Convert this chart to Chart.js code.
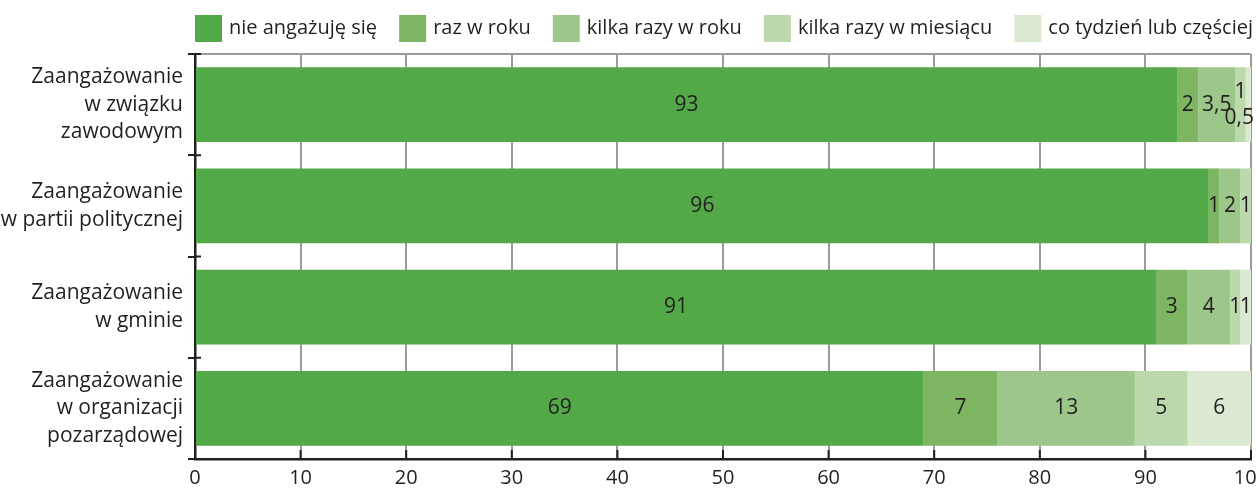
<!DOCTYPE html>
<html>
<head>
<meta charset="utf-8">
<script src="https://cdn.jsdelivr.net/npm/chart.js@4/dist/chart.umd.min.js"></script>
<style>
  html, body { margin: 0; padding: 0; background: #fff; }
  #wrap { width: 1256px; height: 492px; }
</style>
</head>
<body>
<div id="wrap"><canvas id="chart-area"></canvas></div>
<script>
  var categories = [
    ['Zaangażowanie', 'w związku', 'zawodowym'],
    ['Zaangażowanie', 'w partii politycznej'],
    ['Zaangażowanie', 'w gminie'],
    ['Zaangażowanie', 'w organizacji', 'pozarządowej']
  ];
  var seriesNames = ['nie angażuję się', 'raz w roku', 'kilka razy w roku', 'kilka razy w miesiącu', 'co tydzień lub częściej'];
  var nieAngazuje = [93, 96, 91, 69];
  var razWRoku = [2, 1, 3, 7];
  var kilkaRazyWRoku = [3.5, 2, 4, 13];
  var kilkaRazyWMiesiacu = [1, 1, 1, 5];
  var coTydzien = [0.5, 0, 1, 6];
  var xTicks = [0, 10, 20, 30, 40, 50, 60, 70, 80, 90, 100];
  var colors = ['#53a847', '#7db563', '#9dc68a', '#bcd8ad', '#dbe8d2'];

  var FONT = '"Open Sans", "DejaVu Sans", sans-serif';
  var TEXT = '#231f20';

  var series = [nieAngazuje, razWRoku, kilkaRazyWRoku, kilkaRazyWMiesiacu, coTydzien];
  var datasets = series.map(function(vals, i) {
    return {
      label: seriesNames[i],
      data: vals,
      backgroundColor: colors[i],
      borderWidth: 0,
      barPercentage: 0.74,
      categoryPercentage: 1
    };
  });

  function fmt(v) {
    return String(v).replace('.', ',');
  }

  // legend, frame, inside ticks and value labels
  var extras = {
    id: 'extras',
    afterDatasetsDraw: function(chart) {
      var ctx = chart.ctx;
      var area = chart.chartArea;
      ctx.save();
      ctx.font = '21px ' + FONT;
      ctx.fillStyle = TEXT;
      ctx.textAlign = 'center';
      ctx.textBaseline = 'middle';
      for (var r = 0; r < categories.length; r++) {
        for (var d = 0; d < chart.data.datasets.length; d++) {
          var v = chart.data.datasets[d].data[r];
          if (!v) continue;
          var el = chart.getDatasetMeta(d).data[r];
          var x = (el.x + el.base) / 2;
          var y = el.y;
          var w = ctx.measureText(fmt(v)).width;
          var segW = Math.abs(el.x - el.base);
          if (w > segW + 4) {
            // too narrow: stack under the previous label
            y += 13;
            x = Math.min(x, area.right + 3 - w / 2);
          } else if (d + 1 < chart.data.datasets.length) {
            var nv = chart.data.datasets[d + 1].data[r];
            var nel = chart.getDatasetMeta(d + 1).data[r];
            if (nv && ctx.measureText(fmt(nv)).width > Math.abs(nel.x - nel.base) + 4) {
              y -= 13;
            }
          }
          ctx.fillText(fmt(v), x, y);
        }
      }
      ctx.restore();
    },
    afterDraw: function(chart) {
      var ctx = chart.ctx;
      var area = chart.chartArea;
      var xs = chart.scales.x;
      var ys = chart.scales.y;
      ctx.save();
      // top frame
      ctx.strokeStyle = '#9b9b9b';
      ctx.lineWidth = 2;
      ctx.beginPath();
      ctx.moveTo(area.left, area.top);
      ctx.lineTo(area.right, area.top);
      ctx.stroke();
      // inside ticks
      ctx.strokeStyle = TEXT;
      ctx.lineWidth = 2;
      xTicks.forEach(function(t) {
        var px = xs.getPixelForValue(t);
        ctx.beginPath();
        ctx.moveTo(px, area.bottom);
        ctx.lineTo(px, area.bottom - 9);
        ctx.stroke();
      });
      for (var i = 0; i < categories.length; i++) {
        var py = ys.getPixelForValue(i) - (ys.getPixelForValue(1) - ys.getPixelForValue(0)) / 2;
        ctx.beginPath();
        ctx.moveTo(area.left, py);
        ctx.lineTo(area.left + 6, py);
        ctx.stroke();
      }
      // legend
      ctx.font = '20px ' + FONT;
      ctx.textBaseline = 'middle';
      ctx.textAlign = 'left';
      var box = 27, gapText = 7;
      var widths = seriesNames.map(function(n) { return box + gapText + ctx.measureText(n).width; });
      var total = widths.reduce(function(a, b) { return a + b; }, 0);
      var space = (chart.width - 3 - area.left - total) / (seriesNames.length - 1);
      var cx = area.left;
      var top = 15;
      seriesNames.forEach(function(n, i) {
        ctx.fillStyle = colors[i];
        ctx.fillRect(cx, top, box, box);
        ctx.fillStyle = TEXT;
        ctx.fillText(n, cx + box + gapText, top + box / 2);
        cx += widths[i] + space;
      });
      ctx.restore();
    }
  };

  var config = {
    type: 'bar',
    data: {
      labels: categories,
      datasets: datasets
    },
    options: {
      indexAxis: 'y',
      responsive: true,
      maintainAspectRatio: false,
      animation: false,
      layout: {
        padding: { top: 54, right: 5, bottom: 0, left: 0 }
      },
      plugins: {
        legend: { display: false },
        tooltip: { enabled: false }
      },
      scales: {
        x: {
          stacked: true,
          min: 0,
          max: 100,
          afterBuildTicks: function(scale) {
            scale.ticks = xTicks.map(function(v) { return { value: v }; });
          },
          afterFit: function(scale) {
            scale.paddingRight = 0;
            scale.height = 33;
          },
          grid: {
            color: '#9b9b9b',
            lineWidth: 2,
            drawTicks: false
          },
          border: { color: TEXT, width: 2.5 },
          ticks: {
            padding: 7,
            color: TEXT,
            font: { family: FONT, size: 20 }
          }
        },
        y: {
          stacked: true,
          afterFit: function(scale) {
            scale.width = 195;
            scale.paddingTop = 0;
            scale.paddingBottom = 0;
          },
          grid: {
            drawOnChartArea: false,
            color: TEXT,
            lineWidth: 2,
            tickLength: 7
          },
          border: { color: TEXT, width: 2.5 },
          ticks: {
            padding: 5,
            color: TEXT,
            font: { family: FONT, size: 21, lineHeight: 1.3 }
          }
        }
      }
    },
    plugins: [extras]
  };

  window.onload = function() {
    var ctx = document.getElementById('chart-area').getContext('2d');
    window.myBar = new Chart(ctx, config);
  };
</script>
</body>
</html>
